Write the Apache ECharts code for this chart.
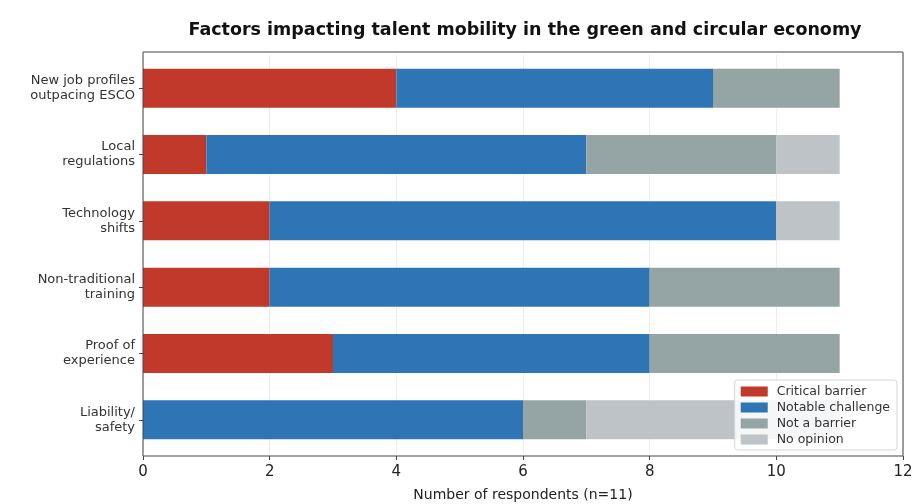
<!DOCTYPE html>
<html>
<head>
<meta charset="utf-8">
<style>
  html, body { margin: 0; padding: 0; background: #ffffff; }
  #chart { width: 914px; height: 504px; }
</style>
<script src="https://cdn.jsdelivr.net/npm/echarts@6/dist/echarts.min.js"></script>
</head>
<body>
<div id="chart"></div>
<script>
// Factors, listed top to bottom
const factors = [
  'New job profiles\noutpacing ESCO',
  'Local\nregulations',
  'Technology\nshifts',
  'Non-traditional\ntraining',
  'Proof of\nexperience',
  'Liability/\nsafety'
];

// Respondent counts per response level (n = 11)
const criticalBarrier  = [4, 1, 2, 2, 3, 0];
const notableChallenge = [5, 6, 8, 6, 5, 6];
const notABarrier      = [2, 3, 0, 3, 3, 1];
const noOpinion        = [0, 1, 1, 0, 0, 4];

const xTicks = [0, 2, 4, 6, 8, 10, 12];

const seriesDefs = [
  { name: 'Critical barrier',  data: criticalBarrier,  color: '#c0392b' },
  { name: 'Notable challenge', data: notableChallenge, color: '#2e75b6' },
  { name: 'Not a barrier',     data: notABarrier,      color: '#95a5a6' },
  { name: 'No opinion',        data: noOpinion,        color: '#bdc3c7' }
];

const FONT = '"DejaVu Sans", sans-serif';

// Plot frame (axes box)
const frame = { left: 143, top: 52, right: 11, bottom: 48 };
const W = 914, H = 504;

const chart = echarts.init(document.getElementById('chart'), null, { renderer: 'canvas' });

chart.setOption({
  animation: false,
  backgroundColor: '#ffffff',
  title: {
    text: 'Factors impacting talent mobility in the green and circular economy',
    left: (frame.left + (W - frame.right)) / 2 - 3,
    textAlign: 'center',
    top: 16,
    textStyle: { fontFamily: FONT, fontSize: 17.5, fontWeight: 'bold', color: '#111' }
  },
  legend: {
    orient: 'vertical',
    right: 17,
    bottom: 54,
    itemWidth: 27,
    itemHeight: 10,
    itemGap: 3,
    padding: [5, 7, 4, 6],
    backgroundColor: 'rgba(255,255,255,0.85)',
    borderColor: '#d6d6d6',
    borderWidth: 1,
    borderRadius: 3,
    icon: 'rect',
    textStyle: { fontFamily: FONT, fontSize: 12.5, color: '#333', padding: [0, 0, 0, 4] },
    data: seriesDefs.map(s => s.name)
  },
  graphic: [{
    type: 'rect',
    silent: true,
    z: 10,
    shape: {
      x: frame.left, y: frame.top,
      width: W - frame.left - frame.right,
      height: H - frame.top - frame.bottom
    },
    style: { fill: 'none', stroke: '#444', lineWidth: 1 }
  }],
  grid: {
    left: frame.left,
    right: frame.right,
    top: frame.top + 3,
    bottom: frame.bottom + 3,
    containLabel: false,
    outerBoundsMode: 'none'
  },
  xAxis: {
    type: 'value',
    min: 0,
    max: 12,
    interval: 2,
    offset: 3,
    name: 'Number of respondents (n=11)',
    nameLocation: 'middle',
    nameGap: 32,
    nameTextStyle: { fontFamily: FONT, fontSize: 14, color: '#222' },
    axisLine: { show: false },
    axisTick: { show: true, length: 4, lineStyle: { color: '#444' } },
    axisLabel: {
      fontFamily: FONT, fontSize: 15, color: '#222', margin: 9,
      formatter: v => (xTicks.indexOf(v) >= 0 ? String(v) : '')
    },
    splitLine: { show: true, lineStyle: { color: '#ececec', width: 1 } }
  },
  yAxis: {
    type: 'category',
    data: factors,
    inverse: true,
    axisLine: { show: false },
    axisTick: { show: true, length: 4, alignWithLabel: true, lineStyle: { color: '#444' } },
    axisLabel: {
      fontFamily: FONT, fontSize: 13, color: '#333', margin: 8,
      lineHeight: 15, align: 'right'
    },
    splitLine: { show: false }
  },
  series: seriesDefs.map(s => ({
    name: s.name,
    type: 'bar',
    stack: 'total',
    barWidth: 39,
    data: s.data,
    itemStyle: { color: s.color },
    emphasis: { disabled: true }
  }))
});
</script>
</body>
</html>
